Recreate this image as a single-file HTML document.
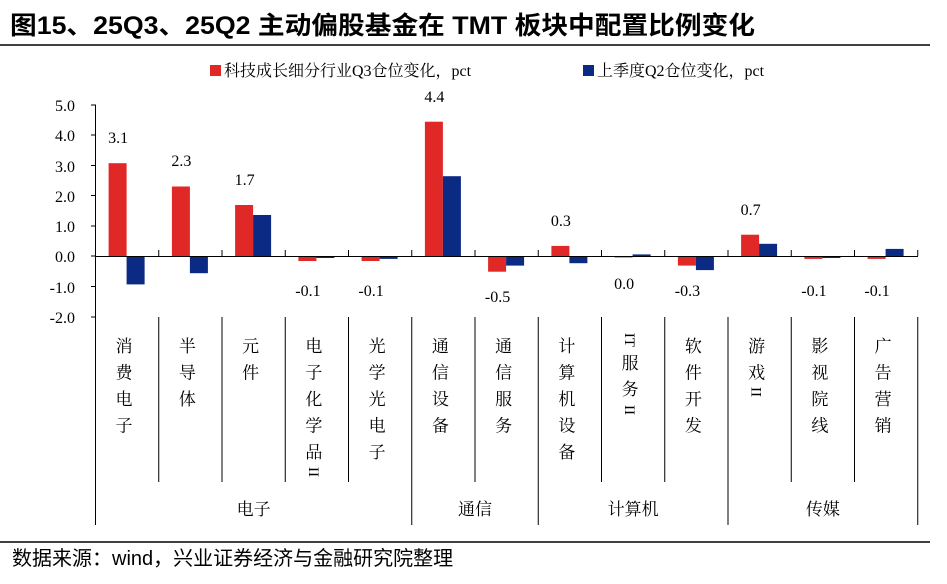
<!DOCTYPE html>
<html><head><meta charset="utf-8"><style>
html,body{margin:0;padding:0;background:#fff;}
svg{display:block;}
.s{font-family:"Liberation Serif","Noto Serif CJK SC",serif;fill:#000;}
</style></head><body>
<svg width="947" height="584" viewBox="0 0 947 584" xmlns="http://www.w3.org/2000/svg">
<text x="10" y="34" font-family="Liberation Sans,'Noto Sans CJK SC',sans-serif" font-weight="bold" font-size="25" textLength="745" lengthAdjust="spacingAndGlyphs">图15、25Q3、25Q2 主动偏股基金在 TMT 板块中配置比例变化</text>
<line x1="0" y1="45" x2="930" y2="45" stroke="#000" stroke-width="1.5"/>
<rect x="210" y="65" width="11" height="11" fill="#e02826"/>
<text class="s" x="224" y="76" font-size="16">科技成长细分行业Q3仓位变化，pct</text>
<rect x="583" y="65" width="11" height="11" fill="#0b2a83"/>
<text class="s" x="597" y="76" font-size="16">上季度Q2仓位变化，pct</text>
<g class="s" font-size="16" text-anchor="end">
<text x="75" y="111">5.0</text><text x="75" y="141">4.0</text><text x="75" y="172">3.0</text><text x="75" y="202">2.0</text><text x="75" y="232">1.0</text><text x="75" y="262">0.0</text><text x="75" y="293">-1.0</text><text x="75" y="323">-2.0</text>
</g>
<g fill="#e02826">
<rect x="108.6" y="163.2" width="18" height="93.3"/>
<rect x="171.9" y="186.5" width="18" height="70"/>
<rect x="235.1" y="205" width="18" height="51.5"/>
<rect x="298.4" y="256.5" width="18" height="4.5"/>
<rect x="361.6" y="256.5" width="18" height="4.5"/>
<rect x="424.9" y="121.7" width="18" height="134.8"/>
<rect x="488.1" y="256.5" width="18" height="15.2"/>
<rect x="551.4" y="245.9" width="18" height="10.6"/>
<rect x="614.6" y="256.5" width="18" height="1"/>
<rect x="677.9" y="256.5" width="18" height="9.1"/>
<rect x="741.1" y="234.7" width="18" height="21.8"/>
<rect x="804.4" y="256.5" width="18" height="2.4"/>
<rect x="867.6" y="256.5" width="18" height="2.4"/>
</g>
<g fill="#0b2a83">
<rect x="126.6" y="256.5" width="18" height="27.9"/>
<rect x="189.9" y="256.5" width="18" height="16.7"/>
<rect x="253.1" y="215" width="18" height="41.5"/>
<rect x="316.4" y="256.5" width="18" height="1.5"/>
<rect x="379.6" y="256.5" width="18" height="2.4"/>
<rect x="442.9" y="176.2" width="18" height="80.3"/>
<rect x="506.1" y="256.5" width="18" height="9.1"/>
<rect x="569.4" y="256.5" width="18" height="6.7"/>
<rect x="632.6" y="254.4" width="18" height="2.1"/>
<rect x="695.9" y="256.5" width="18" height="13.6"/>
<rect x="759.1" y="243.8" width="18" height="12.7"/>
<rect x="822.4" y="256.5" width="18" height="1.5"/>
<rect x="885.6" y="248.9" width="18" height="7.6"/>
</g>
<g stroke="#000" stroke-width="1">
<line x1="95.5" y1="105" x2="95.5" y2="525"/>
<line x1="91" y1="105" x2="96" y2="105"/><line x1="91" y1="135" x2="96" y2="135"/><line x1="91" y1="165.5" x2="96" y2="165.5"/><line x1="91" y1="195.5" x2="96" y2="195.5"/><line x1="91" y1="226" x2="96" y2="226"/><line x1="91" y1="256" x2="96" y2="256"/><line x1="91" y1="286.5" x2="96" y2="286.5"/><line x1="91" y1="317" x2="96" y2="317"/>
<line x1="95" y1="256.5" x2="918" y2="256.5"/>
<line x1="158.75" y1="250" x2="158.75" y2="256"/><line x1="222" y1="250" x2="222" y2="256"/><line x1="285.25" y1="250" x2="285.25" y2="256"/><line x1="348.5" y1="250" x2="348.5" y2="256"/><line x1="411.75" y1="250" x2="411.75" y2="256"/><line x1="475" y1="250" x2="475" y2="256"/><line x1="538.25" y1="250" x2="538.25" y2="256"/><line x1="601.5" y1="250" x2="601.5" y2="256"/><line x1="664.75" y1="250" x2="664.75" y2="256"/><line x1="728" y1="250" x2="728" y2="256"/><line x1="791.25" y1="250" x2="791.25" y2="256"/><line x1="854.5" y1="250" x2="854.5" y2="256"/><line x1="917.75" y1="250" x2="917.75" y2="256"/>
<line x1="158.75" y1="317" x2="158.75" y2="482"/><line x1="222" y1="317" x2="222" y2="482"/><line x1="285.25" y1="317" x2="285.25" y2="482"/><line x1="348.5" y1="317" x2="348.5" y2="482"/><line x1="411.75" y1="317" x2="411.75" y2="525"/><line x1="475" y1="317" x2="475" y2="482"/><line x1="538.25" y1="317" x2="538.25" y2="525"/><line x1="601.5" y1="317" x2="601.5" y2="482"/><line x1="664.75" y1="317" x2="664.75" y2="482"/><line x1="728" y1="317" x2="728" y2="525"/><line x1="791.25" y1="317" x2="791.25" y2="482"/><line x1="854.5" y1="317" x2="854.5" y2="482"/><line x1="917.75" y1="317" x2="917.75" y2="525"/>
</g>
<g class="s" font-size="16" text-anchor="middle">
<text x="118.1" y="143">3.1</text><text x="181.4" y="166">2.3</text><text x="244.6" y="185">1.7</text><text x="307.9" y="296">-0.1</text><text x="371.1" y="296">-0.1</text><text x="434.4" y="102">4.4</text><text x="497.6" y="302">-0.5</text><text x="560.9" y="226">0.3</text><text x="624.1" y="289">0.0</text><text x="687.4" y="296">-0.3</text><text x="750.6" y="215">0.7</text><text x="813.9" y="296">-0.1</text><text x="877.1" y="296">-0.1</text>
</g>
<g class="s" font-size="17" text-anchor="middle">
<text x="124" y="352">消</text><text x="124" y="378.5">费</text><text x="124" y="405">电</text><text x="124" y="431.5">子</text>
<text x="187.4" y="352">半</text><text x="187.4" y="378.5">导</text><text x="187.4" y="405">体</text>
<text x="250.6" y="352">元</text><text x="250.6" y="378.5">件</text>
<text x="313.9" y="352">电</text><text x="313.9" y="378.5">子</text><text x="313.9" y="405">化</text><text x="313.9" y="431.5">学</text><text x="313.9" y="458">品</text>
<text font-size="15" transform="translate(313.9,472) rotate(90)" y="5">II</text>
<text x="377.1" y="352">光</text><text x="377.1" y="378.5">学</text><text x="377.1" y="405">光</text><text x="377.1" y="431.5">电</text><text x="377.1" y="458">子</text>
<text x="440.4" y="352">通</text><text x="440.4" y="378.5">信</text><text x="440.4" y="405">设</text><text x="440.4" y="431.5">备</text>
<text x="503.6" y="352">通</text><text x="503.6" y="378.5">信</text><text x="503.6" y="405">服</text><text x="503.6" y="431.5">务</text>
<text x="566.9" y="352">计</text><text x="566.9" y="378.5">算</text><text x="566.9" y="405">机</text><text x="566.9" y="431.5">设</text><text x="566.9" y="458">备</text>
<text font-size="15" transform="translate(630.1,340) rotate(90)" y="5">IT</text>
<text x="630.1" y="369">服</text><text x="630.1" y="395">务</text>
<text font-size="15" transform="translate(630.1,410) rotate(90)" y="5">II</text>
<text x="693.4" y="352">软</text><text x="693.4" y="378.5">件</text><text x="693.4" y="405">开</text><text x="693.4" y="431.5">发</text>
<text x="756.6" y="352">游</text><text x="756.6" y="378.5">戏</text>
<text font-size="15" transform="translate(756.6,392) rotate(90)" y="5">II</text>
<text x="819.9" y="352">影</text><text x="819.9" y="378.5">视</text><text x="819.9" y="405">院</text><text x="819.9" y="431.5">线</text>
<text x="883.1" y="352">广</text><text x="883.1" y="378.5">告</text><text x="883.1" y="405">营</text><text x="883.1" y="431.5">销</text>
<text x="253.6" y="515">电子</text><text x="475" y="515">通信</text><text x="633.1" y="515">计算机</text><text x="822.9" y="515">传媒</text>
</g>
<line x1="0" y1="542" x2="930" y2="542" stroke="#000" stroke-width="1.5"/>
<text x="12" y="565" font-family="Liberation Sans,'Noto Sans CJK SC',sans-serif" font-size="20">数据来源：wind，兴业证券经济与金融研究院整理</text>
</svg>
</body></html>
